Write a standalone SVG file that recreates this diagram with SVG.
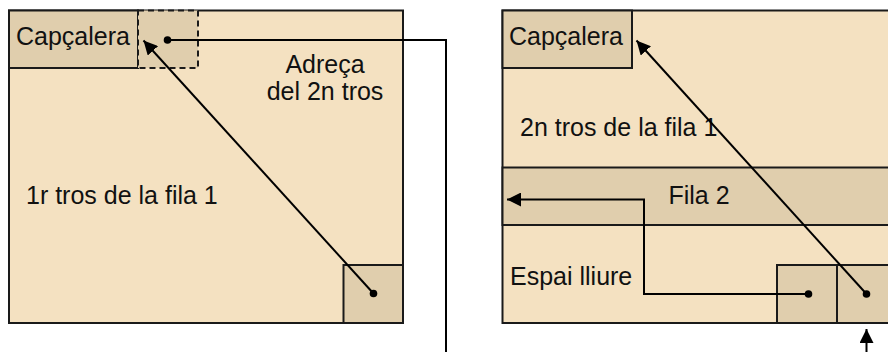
<svg xmlns="http://www.w3.org/2000/svg" width="888" height="352" viewBox="0 0 888 352">
<defs>
<marker id="arr" markerUnits="userSpaceOnUse" markerWidth="16" markerHeight="14" refX="14" refY="7" orient="auto">
<path d="M0,0 L14,7 L0,14 z" fill="#000"/>
</marker>
<style>
.light{fill:#F4E1C1;stroke:#1a1a1a;stroke-width:2}
.dark{fill:#E0CEAD;stroke:#1a1a1a;stroke-width:2}
.dash{fill:#E0CEAD;stroke:#1a1a1a;stroke-width:2;stroke-dasharray:6 4}
.t{font-family:"Liberation Sans",Arial,sans-serif;font-size:25px;fill:#111}
.c{fill:none;stroke:#000;stroke-width:2}
.dot{fill:#000}
</style>
</defs>
<rect width="888" height="352" fill="#fff"/>
<g id="block1">
<rect class="light" x="9" y="10.5" width="394" height="312.5"/>
<text class="t" x="26" y="204">1r tros de la fila 1</text>
<text class="t" x="325" y="73" text-anchor="middle">Adreça</text>
<text class="t" x="325" y="100" text-anchor="middle">del 2n tros</text>
</g>
<g id="header1">
<rect class="dark" x="9" y="10.5" width="129" height="57.5"/>
<text class="t" x="16" y="45">Capçalera</text>
</g>
<g id="addr1">
<rect class="dash" x="138" y="10.5" width="60" height="57.5"/>
</g>
<g id="tail1">
<rect class="dark" x="343.5" y="265" width="59.5" height="58"/>
</g>
<g id="block2">
<rect class="light" x="502.5" y="10.5" width="400" height="312.5"/>
<text class="t" x="520" y="136">2n tros de la fila 1</text>
<text class="t" x="510" y="285">Espai lliure</text>
</g>
<g id="header2">
<rect class="dark" x="502.5" y="10.5" width="129.5" height="57.5"/>
<text class="t" x="509" y="45">Capçalera</text>
</g>
<g id="fila2">
<rect class="dark" x="502.5" y="167.5" width="400" height="57.5"/>
<text class="t" x="699" y="204" text-anchor="middle">Fila 2</text>
</g>
<g id="cell1">
<rect class="dark" x="777" y="265" width="60" height="58"/>
</g>
<g id="cell2">
<rect class="dark" x="837" y="265" width="60" height="58"/>
</g>
<g id="connectors">
<polyline class="c" points="167.5,40 446,40 446,360"/>
<line class="c" x1="373.5" y1="293.5" x2="143.5" y2="40.5" marker-end="url(#arr)"/>
<polyline class="c" points="808.5,294 644,294 644,199.5 507,199.5" marker-end="url(#arr)"/>
<line class="c" x1="866.5" y1="294" x2="636.5" y2="40.5" marker-end="url(#arr)"/>
<line class="c" x1="866.5" y1="360" x2="866.5" y2="329" marker-end="url(#arr)"/>
<circle class="dot" cx="167.5" cy="40" r="3.8"/>
<circle class="dot" cx="373.5" cy="293.5" r="3.8"/>
<circle class="dot" cx="808.5" cy="294" r="3.8"/>
<circle class="dot" cx="866.5" cy="294" r="3.8"/>
</g>
</svg>
